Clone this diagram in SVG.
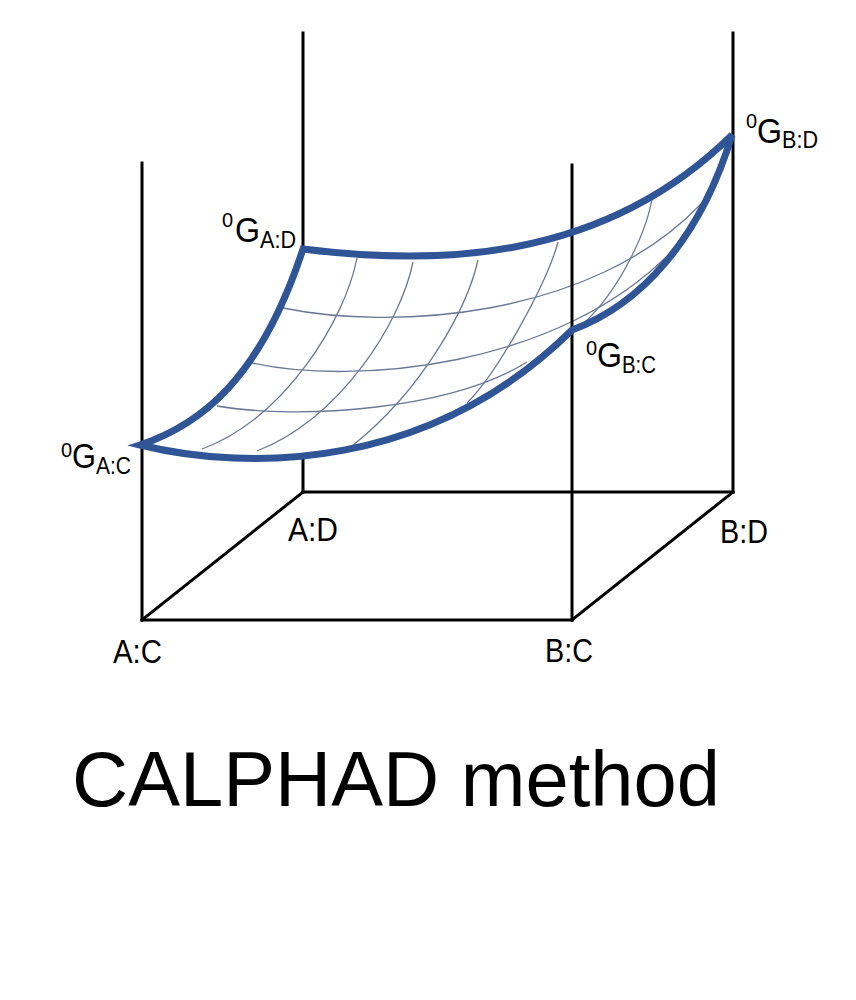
<svg xmlns="http://www.w3.org/2000/svg" width="856" height="1000" viewBox="0 0 856 1000">
<style>
.ax{stroke:#000;stroke-width:3;fill:none;stroke-linecap:square}
.grid{stroke:#6a7896;stroke-width:1.3;fill:none}
.edge{stroke:#2f5597;stroke-width:7;fill:none;stroke-linejoin:miter}
.lbl{font-family:"Liberation Sans",Arial,sans-serif;fill:#000}
.big{font-size:33px}
.g{font-size:35px}
.sub{font-size:23px}
.sup{font-size:20px}
</style>
<rect width="856" height="1000" fill="#fff"/>
<g id="axes">
<line class="ax" x1="142" y1="163" x2="142" y2="620"/>
<line class="ax" x1="303" y1="33" x2="303" y2="492"/>
<line class="ax" x1="733" y1="33" x2="733" y2="492"/>
<line class="ax" x1="142" y1="620" x2="572" y2="620"/>
<line class="ax" x1="142" y1="620" x2="303" y2="492"/>
<line class="ax" x1="303" y1="492" x2="733" y2="492"/>
<line class="ax" x1="572" y1="620" x2="733" y2="492"/>
</g>
<g id="surface">
<path fill="#fff" d="M303,249 C430,265 600,265 732,135 C700,240 640,305 572,330 C430,470 250,472 140,445 C200,425 260,380 303,249 Z"/>
<g id="grid">
<path class="grid" d="M283,308 C390,330 590,320 701,204"/>
<path class="grid" d="M252,363 C350,385 560,370 675,248"/>
<path class="grid" d="M217,406 C300,420 450,410 527,362"/>
<path class="grid" d="M357,258 C345,320 285,418 202,449"/>
<path class="grid" d="M413,262 C401,322 341,418 257,451"/>
<path class="grid" d="M478,260 C468,305 425,388 352,446"/>
<path class="grid" d="M558,242 C548,280 500,370 467,403"/>
<path class="grid" d="M653,193 C648,230 620,290 582,325"/>
</g>
</g>
<g id="axis-front">
<line class="ax" x1="572" y1="165" x2="572" y2="620"/>
</g>
<g id="surface-edges">
<path class="edge" d="M303,249 C430,265 600,265 732,135 C700,240 640,305 572,330 C430,470 250,472 140,445 C200,425 260,380 303,249 Z"/>
</g>
<g id="label-AC"><text class="lbl big" x="113" y="663" textLength="49" lengthAdjust="spacingAndGlyphs">A:C</text></g>
<g id="label-BC"><text class="lbl big" x="545" y="662" textLength="48" lengthAdjust="spacingAndGlyphs">B:C</text></g>
<g id="label-AD"><text class="lbl big" x="288" y="541" textLength="50" lengthAdjust="spacingAndGlyphs">A:D</text></g>
<g id="label-BD"><text class="lbl big" x="720" y="543" textLength="48" lengthAdjust="spacingAndGlyphs">B:D</text></g>
<g id="G-AC">
<text class="lbl sup" x="61" y="457">0</text>
<text class="lbl g" x="72" y="468" textLength="24" lengthAdjust="spacingAndGlyphs">G</text>
<text class="lbl sub" x="96" y="474" textLength="35" lengthAdjust="spacingAndGlyphs">A:C</text>
</g>
<g id="G-AD">
<text class="lbl sup" x="222" y="227">0</text>
<text class="lbl g" x="235" y="242" textLength="25" lengthAdjust="spacingAndGlyphs">G</text>
<text class="lbl sub" x="260" y="248" textLength="36" lengthAdjust="spacingAndGlyphs">A:D</text>
</g>
<g id="G-BC">
<text class="lbl sup" x="586" y="355">0</text>
<text class="lbl g" x="597" y="367" textLength="25" lengthAdjust="spacingAndGlyphs">G</text>
<text class="lbl sub" x="622" y="373" textLength="34" lengthAdjust="spacingAndGlyphs">B:C</text>
</g>
<g id="G-BD">
<text class="lbl sup" x="746" y="128">0</text>
<text class="lbl g" x="757" y="143" textLength="25" lengthAdjust="spacingAndGlyphs">G</text>
<text class="lbl sub" x="782" y="148" textLength="36" lengthAdjust="spacingAndGlyphs">B:D</text>
</g>
<g id="title">
<text class="lbl" x="72" y="806" font-size="78" textLength="648" lengthAdjust="spacingAndGlyphs">CALPHAD method</text>
</g>
</svg>
